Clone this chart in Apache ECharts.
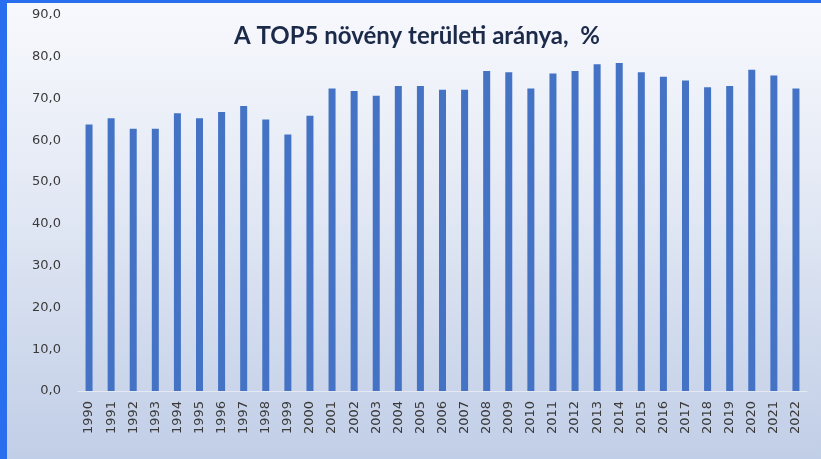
<!DOCTYPE html>
<html>
<head>
<meta charset="utf-8">
<script src="https://cdn.jsdelivr.net/npm/echarts@6/dist/echarts.min.js"></script>
<style>
  html, body { margin: 0; padding: 0; }
  #main { width: 821px; height: 459px; }
</style>
</head>
<body>
<div id="main"></div>
<script>
var years = ['1990','1991','1992','1993','1994','1995','1996','1997','1998','1999','2000',
  '2001','2002','2003','2004','2005','2006','2007','2008','2009','2010','2011',
  '2012','2013','2014','2015','2016','2017','2018','2019','2020','2021','2022'];
var shares = [63.8, 65.3, 62.8, 62.8, 66.5, 65.3, 66.8, 68.2, 65.0, 61.4, 65.9,
  72.4, 71.8, 70.7, 73.0, 73.0, 72.1, 72.1, 76.6, 76.3, 72.4, 76.0,
  76.6, 78.2, 78.5, 76.3, 75.2, 74.3, 72.7, 73.0, 76.9, 75.5, 72.4];
var titleText = 'A TOP5 növény területi aránya,  %';

var myChart = echarts.init(document.getElementById('main'));

var option = {
  backgroundColor: new echarts.graphic.LinearGradient(0, 0, 0, 1, [
    { offset: 0, color: '#f8f9fd' },
    { offset: 0.45, color: '#e2e8f4' },
    { offset: 1, color: '#c1cee7' }
  ]),
  animation: false,
  title: {
    text: titleText,
    left: 229,
    top: 19,
    textStyle: {
      fontFamily: 'Lato',
      fontWeight: 'bold',
      fontSize: 24,
      color: '#1c2a4a'
    }
  },
  graphic: [
    { type: 'rect', shape: { x: 0, y: 0, width: 7, height: 459 }, style: { fill: '#2a6ef0' } },
    { type: 'rect', shape: { x: 0, y: 0, width: 821, height: 3 }, style: { fill: '#2a6ef0' } }
  ],
  grid: { left: 78, right: 14, top: 15, bottom: 68 },
  xAxis: {
    type: 'category',
    data: years,
    axisLine: { lineStyle: { color: '#e4e9f3', width: 1 } },
    axisTick: { show: false },
    axisLabel: {
      rotate: 90,
      margin: 10,
      fontFamily: 'DejaVu Sans',
      fontSize: 13,
      color: '#3a3a3a'
    }
  },
  yAxis: {
    type: 'value',
    min: 0,
    max: 90,
    interval: 10,
    splitLine: { show: false },
    axisLine: { show: false },
    axisTick: { show: false },
    axisLabel: {
      margin: 17,
      fontFamily: 'DejaVu Sans',
      fontSize: 13,
      color: '#3a3a3a',
      formatter: function (v) { return v.toFixed(1).replace('.', ','); }
    }
  },
  series: [{
    type: 'bar',
    data: shares,
    barWidth: 7,
    itemStyle: { color: '#4472c4' }
  }]
};

myChart.setOption(option);
</script>
</body>
</html>
